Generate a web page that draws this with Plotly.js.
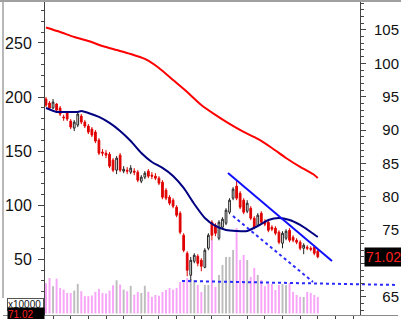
<!DOCTYPE html>
<html><head><meta charset="utf-8">
<script src="https://cdn.plot.ly/plotly-3.0.1.min.js"></script>
<style>html,body{margin:0;padding:0;background:#fff;overflow:hidden}#chart{width:401px;height:319px}</style>
</head><body><div id="chart"></div>
<script>
// Daily candles (price, right axis)
const opens = [94.65,94.05,93.3,93.9,93.3,91.95,92.55,
 91.35,90.3,90.75,92.1,91.2,90.6,90.15,
 89.7,88.5,86.7,86.55,86.4,85.5,84.0,86.25,83.85,
 84.0,83.7,83.85,83.7,82.35,82.95,83.85,83.25,83.1,82.8,
 82.2,81.0,79.95,79.5,78.45,77.55,74.25,71.55,
 68.25,70.35,71.1,70.5,69.45,72.3,
 76.2,75.75,73.8,75.45,76.05,77.7,79.8,
 81.6,80.55,79.5,77.85,78.3,76.8,75.75,77.55,76.2,
 76.2,75.45,75.3,74.7,73.05,73.8,75.0,73.95,73.5,73.2,72.3,72.45,72.3,72.45,71.85];
const closes = [93.75,93.3,94.2,93.0,92.4,91.85,91.65,
 90.45,91.2,92.4,91.2,90.6,89.7,89.25,
 88.35,86.55,86.55,86.25,84.6,84.0,85.8,84.0,84.15,
 83.85,84.3,83.7,82.5,82.95,83.55,83.1,83.1,82.8,82.05,
 79.95,79.8,79.05,78.6,77.25,74.7,72.0,69.0,
 70.5,71.25,70.05,69.6,72.0,74.25,
 74.25,74.55,76.2,76.65,78.0,79.5,81.15,
 79.8,78.45,77.7,79.05,76.8,75.45,77.25,76.2,75.9,
 75.0,75.15,74.55,73.2,74.55,74.85,73.5,73.5,73.2,72.3,72.75,72.3,72.15,71.55,71.02];
const highs = [94.95,94.35,94.65,94.05,93.6,92.3,92.85,
 91.65,91.5,92.7,92.4,91.5,90.9,90.45,
 90.0,88.8,87.15,87.0,86.7,85.8,86.1,86.55,84.6,
 84.45,84.75,84.3,84.0,83.25,83.85,84.15,83.7,83.55,83.1,
 82.5,81.3,80.25,79.8,78.75,77.85,74.55,71.85,
 71.0,71.55,71.4,70.8,72.3,74.55,
 76.5,76.05,76.5,76.95,78.3,79.8,81.45,
 82.5,80.85,79.8,79.5,78.6,77.1,77.55,77.85,76.65,
 76.5,75.75,75.6,75.0,74.85,75.15,75.3,74.25,73.8,73.5,73.05,72.75,72.6,72.75,72.15];
const lows = [93.45,93.0,93.15,92.7,92.1,91.4,91.35,
 90.15,89.85,90.45,90.9,90.3,89.4,88.95,
 88.05,86.25,86.1,85.8,84.3,83.7,83.4,83.7,83.55,
 83.4,83.4,83.25,82.2,82.05,82.65,82.8,82.65,82.5,81.75,
 79.65,79.5,78.75,78.3,76.95,74.4,71.7,68.1,
 67.35,70.05,69.6,68.85,69.3,72.0,
 73.5,74.1,73.5,75.15,75.75,77.4,79.5,
 79.5,78.15,77.4,77.55,76.5,75.15,75.45,75.9,75.6,
 74.7,74.85,74.25,72.9,72.3,73.5,73.2,73.2,72.9,72.0,71.4,72.0,71.85,71.25,70.8];
// Volume (x10000, left axis)
const volumes = [27.9,32.7,25.1,32.1,23.5,22.0,18.9,
 18.9,21.1,27.3,20.5,15.9,15.9,16.5,
 19.9,22.6,18.9,18.3,21.1,26.0,30.6,26.6,22.0,
 20.5,25.5,17.2,19.8,18.9,25.5,20.0,15.2,17.0,16.3,
 19.8,21.6,23.5,22.0,23.5,29.0,29.9,32.7,
 31.8,30.9,26.2,19.8,26.2,26.2,
 67.8,24.4,35.5,44.8,52.2,52.2,58.6,
 79.0,49.4,54.0,49.4,33.7,42.0,35.5,30.9,25.0,
 27.5,27.1,21.6,26.2,27.1,26.2,28.1,19.8,17.0,15.2,15.2,19.8,18.9,17.0,15.2];
// Moving averages
const longMaX = [0,4,8,12,16,20,24,28,32,36,40,44,48,52,56,60,64,68,72,76,77];
const longMaY = [105.37,104.70,103.95,103.35,102.60,102.00,101.40,100.66,99.31,97.51,95.71,93.76,92.27,90.92,89.72,88.67,87.32,85.82,84.48,83.28,82.83];
const shortMaX = [0,3,6,9,10,12,15,18,21,24,27,30,33,36,39,42,45,48,51,54,57,60,63,66,69,72,75,77];
const shortMaY = [93.31,92.72,92.72,92.72,92.87,92.57,91.97,91.07,89.87,88.37,86.57,85.22,84.33,83.13,81.33,78.93,76.84,75.64,75.04,74.89,74.89,75.64,76.54,76.84,76.54,75.79,74.74,73.99];
// Trend lines
const trendX = [51.56, 81.02], trendY = [83.58, 70.39];
const channelX = [52.97, 75.64], channelY = [77.13, 67.25];
const supportX = [38.53, 99.7], supportY = [67.40, 66.80];
// Axis ticks (the 70 label sits under the price tag)
const xTicks = [2,7,12,17,22,27,32,37,42,47,52,57,62,67,72,77,82,87];
const leftTicks = [50,100,150,200,250];
const rightTicks = [65,70,75,80,85,90,95,100,105];
const rightLabels = ['\u200765','','\u200775','\u200780','\u200785','\u200790','\u200795','100','105'];

const days = opens.map((_, k) => k);
const volColors = days.map(k => closes[k] >= opens[k] ? '#bdbdbd' : '#f8a4f8');
const last = closes[closes.length - 1];

const traces = [
  {type:'bar', x:days, y:volumes, width:0.55, marker:{color:volColors, line:{width:0}}, xaxis:'x', yaxis:'y', hoverinfo:'skip'},
  {type:'candlestick', x:days, open:opens, high:highs, low:lows, close:closes, xaxis:'x', yaxis:'y2',
   increasing:{line:{color:'#222222', width:1}, fillcolor:'#ffffff'},
   decreasing:{line:{color:'#e00000', width:1}, fillcolor:'#e00000'},
   whiskerwidth:0, hoverinfo:'skip'},
  {type:'scatter', mode:'lines', x:longMaX, y:longMaY, xaxis:'x', yaxis:'y2', line:{color:'#ff0000', width:2, shape:'spline', smoothing:0.6}},
  {type:'scatter', mode:'lines', x:shortMaX, y:shortMaY, xaxis:'x', yaxis:'y2', line:{color:'#000080', width:2, shape:'spline', smoothing:0.6}},
  {type:'scatter', mode:'lines', x:trendX, y:trendY, xaxis:'x', yaxis:'y2', line:{color:'#1010ff', width:2}},
  {type:'scatter', mode:'lines', x:channelX, y:channelY, xaxis:'x', yaxis:'y2', line:{color:'#2a2aff', width:2, dash:'dot'}},
  {type:'scatter', mode:'lines', x:supportX, y:supportY, xaxis:'x', yaxis:'y2', line:{color:'#2a2aff', width:2, dash:'dot'}}
];

const fnt = 'Liberation Sans, Arial, sans-serif';
const layout = {
  width:401, height:319,
  margin:{l:3, r:3, t:2, b:4, pad:0},
  paper_bgcolor:'#ffffff', plot_bgcolor:'#ffffff',
  showlegend:false, hovermode:false,
  font:{family:fnt, color:'#111'},
  xaxis:{domain:[0,1], range:[-12.18, 99.72], anchor:'y', showgrid:false, zeroline:false,
    showline:true, linecolor:'#8a8a8a', linewidth:1,
    tickmode:'array', tickvals:xTicks, ticks:'outside', ticklen:4, tickcolor:'#444', tickwidth:1,
    showticklabels:false, rangeslider:{visible:false}, fixedrange:true},
  yaxis:{domain:[0,1], range:[-1.5, 287.9], anchor:'free', position:0.1038, side:'left',
    showgrid:false, zeroline:false, showline:true, linecolor:'#444', linewidth:1,
    tickmode:'array', tickvals:leftTicks, ticks:'outside', ticklen:6, tickcolor:'#444',
    minor:{dtick:10, tick0:0, ticks:'outside', ticklen:3, tickcolor:'#444'},
    tickfont:{size:16, family:fnt, color:'#111'}, ticklabelstandoff:3},
  yaxis2:{domain:[0,1], range:[62.30, 109.19], overlaying:'y', anchor:'free', position:0.9038, side:'right',
    showgrid:false, zeroline:false, showline:true, linecolor:'#444', linewidth:1,
    tickmode:'array', tickvals:rightTicks, ticktext:rightLabels, ticks:'outside', ticklen:5, tickcolor:'#444',
    minor:{dtick:1, tick0:0, ticks:'outside', ticklen:3, tickcolor:'#444'},
    tickfont:{size:15, family:fnt, color:'#111'}, ticklabelstandoff:5},
  shapes:[
    {type:'line', xref:'paper', yref:'paper', x0:-0.01, x1:1.01, y0:1.003, y1:1.003, line:{color:'#a0a0a0', width:2}},
    {type:'line', xref:'paper', yref:'paper', x0:0, x1:0, y0:0.054, y1:1.003, line:{color:'#a0a0a0', width:1.5}}
  ],
  annotations:[
    {xref:'paper', yref:'y2', x:0.9114, y:last, xanchor:'left', yanchor:'middle', text:last.toFixed(2),
     showarrow:false, bgcolor:'#000000', borderpad:1, xshift:1, font:{family:fnt, size:14, color:'#ff2020'}},
    {xref:'paper', yref:'paper', x:0.0101, y:0.0543, xanchor:'left', yanchor:'top', text:'x10000', width:35, align:'left',
     showarrow:false, bgcolor:'#ffffff', bordercolor:'#555', borderwidth:1, borderpad:0, font:{family:fnt, size:10, color:'#111'}},
    {xref:'paper', yref:'paper', x:0.0101, y:0.0256, xanchor:'left', yanchor:'top', text:last.toFixed(2), width:36, height:12, align:'left',
     showarrow:false, bgcolor:'#000000', borderpad:0, font:{family:fnt, size:10, color:'#ff2020'}}
  ]
};
Plotly.newPlot('chart', traces, layout, {staticPlot:true, displayModeBar:false});
</script></body></html>
